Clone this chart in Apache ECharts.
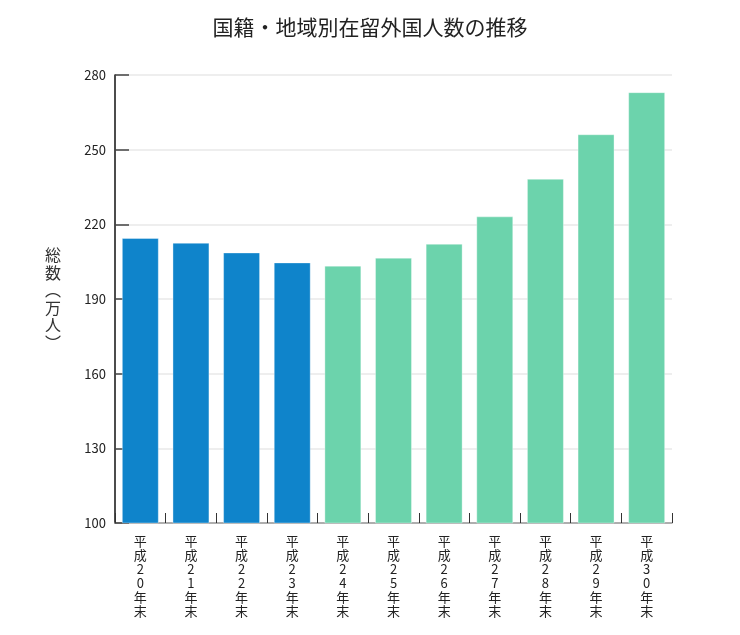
<!DOCTYPE html>
<html>
<head>
<meta charset="utf-8">
<script src="https://cdn.jsdelivr.net/npm/echarts@6/dist/echarts.min.js"></script>
<style>
html,body{margin:0;padding:0;background:#fff;}
#chart{width:740px;height:635px;}
</style>
</head>
<body>
<div id="chart"></div>
<script>
const titleText = '国籍・地域別在留外国人数の推移';
const yAxisName = '総\n数\n︵\n万\n人\n︶';
const categories = ['平成20年末','平成21年末','平成22年末','平成23年末','平成24年末','平成25年末','平成26年末','平成27年末','平成28年末','平成29年末','平成30年末'];
const totals = [214.5, 212.6, 208.7, 204.7, 203.4, 206.6, 212.2, 223.2, 238.3, 256.2, 273.1];
const yTicks = [100, 130, 160, 190, 220, 250, 280];
const firstGroupCount = 4;

const FONT = '"Noto Sans CJK JP", "Noto Sans", sans-serif';
const chart = echarts.init(document.getElementById('chart'), null, {renderer: 'canvas'});
chart.setOption({
  animation: false,
  backgroundColor: '#fff',
  textStyle: {fontFamily: FONT},
  title: {
    text: titleText,
    left: 'center',
    top: 12,
    textStyle: {fontFamily: FONT, fontSize: 21, fontWeight: 'normal', color: '#222'}
  },
  grid: {left: 115, right: 68, top: 75, bottom: 112},
  xAxis: {
    type: 'category',
    data: categories,
    axisLine: {show: true, lineStyle: {color: '#999', width: 1.5}},
    axisTick: {show: true, inside: true, length: 10, lineStyle: {color: '#333'}},
    axisLabel: {
      fontFamily: FONT, fontSize: 13, color: '#222', margin: 11, lineHeight: 14,
      formatter: v => v.split('').join('\n')
    },
    splitLine: {show: false}
  },
  yAxis: {
    type: 'value',
    min: yTicks[0],
    max: yTicks[yTicks.length - 1],
    interval: yTicks[1] - yTicks[0],
    name: yAxisName,
    nameLocation: 'middle',
    nameRotate: 0,
    nameGap: 54,
    nameTextStyle: {fontFamily: FONT, fontSize: 16, color: '#333', lineHeight: 17.5},
    axisLine: {show: true, lineStyle: {color: '#111', width: 1.5}},
    axisTick: {show: true, inside: true, length: 14, lineStyle: {color: '#444', width: 1.5}},
    axisLabel: {fontFamily: FONT, fontSize: 13, color: '#222', margin: 9},
    splitLine: {show: true, lineStyle: {color: '#eeeeee', width: 2}}
  },
  series: [{
    type: 'bar',
    data: totals,
    barCategoryGap: '27%',
    itemStyle: {
      color: p => p.dataIndex < firstGroupCount ? '#0f84cb' : '#6cd3ac',
      borderColor: 'rgba(255,255,255,0.35)',
      borderWidth: 1
    }
  }]
});
</script>
</body>
</html>
